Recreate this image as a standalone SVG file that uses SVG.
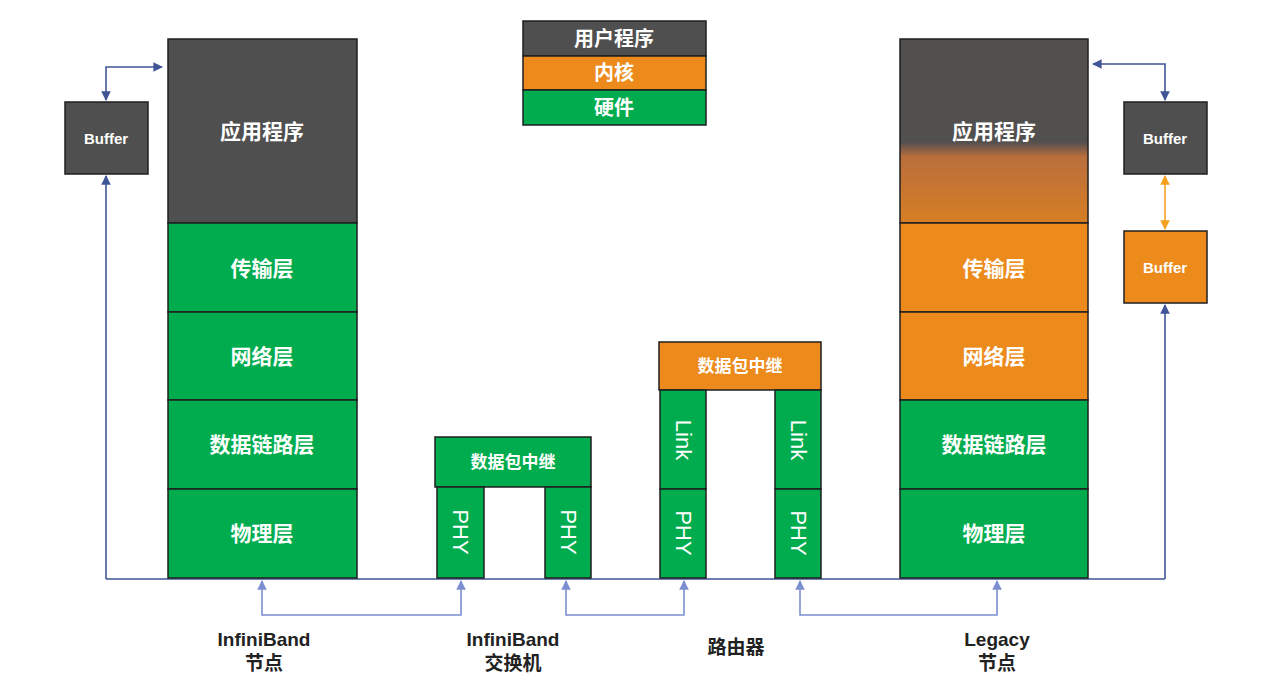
<svg xmlns="http://www.w3.org/2000/svg" width="1283" height="695" viewBox="0 0 1283 695">
<defs>
<style>
.d{fill:#4f4f4f;stroke:#1f1f1f;stroke-width:1.5}
.g{fill:#00ac4e;stroke:#1f1f1f;stroke-width:1.5}
.o{fill:#ec8a1c;stroke:#1f1f1f;stroke-width:1.5}
.t{font-family:"Liberation Sans","Noto Sans CJK SC",sans-serif;font-weight:bold;fill:#fff;text-anchor:middle;dominant-baseline:central}
.v{font-family:"Liberation Sans",sans-serif;fill:#fff;font-size:22px;text-anchor:middle;dominant-baseline:central}
.l{font-family:"Liberation Sans","Noto Sans CJK SC",sans-serif;font-weight:bold;fill:#222;font-size:19px;text-anchor:middle}
.c{fill:none;stroke:#3f5596;stroke-width:1.6}
.c2{fill:none;stroke:#7b8fd0;stroke-width:1.6}
.c3{fill:none;stroke:#f5a020;stroke-width:1.6}
</style>
<marker id="a" viewBox="0 0 10 10" refX="9" refY="5" markerWidth="6" markerHeight="6" orient="auto-start-reverse"><path d="M0,0L10,5L0,10z" fill="#3f5596"/></marker>
<marker id="b" viewBox="0 0 10 10" refX="9" refY="5" markerWidth="6" markerHeight="6" orient="auto-start-reverse"><path d="M0,0L10,5L0,10z" fill="#7b8fd0"/></marker>
<marker id="c" viewBox="0 0 10 10" refX="9" refY="5" markerWidth="6" markerHeight="6" orient="auto-start-reverse"><path d="M0,0L10,5L0,10z" fill="#f5a020"/></marker>
<linearGradient id="gr" x1="0" y1="0" x2="0" y2="1">
<stop offset="0" stop-color="#524f4f"/>
<stop offset="0.56" stop-color="#524f4f"/>
<stop offset="0.64" stop-color="#b96e3c"/>
<stop offset="1" stop-color="#d77f24"/>
</linearGradient>
</defs>
<rect width="1283" height="695" fill="#fff"/>

<g id="connectors">
<path class="c" d="M106,579H1165"/>
<path class="c" d="M106,579V176" marker-end="url(#a)"/>
<path class="c" d="M106,100V67H162" marker-start="url(#a)" marker-end="url(#a)"/>
<path class="c" d="M1165,100V64H1093" marker-start="url(#a)" marker-end="url(#a)"/>
<path class="c" d="M1165,579V305" marker-end="url(#a)"/>
<path class="c3" d="M1165,176V229" marker-start="url(#c)" marker-end="url(#c)"/>
<path class="c2" d="M262,581V615H461V581" marker-start="url(#b)" marker-end="url(#b)"/>
<path class="c2" d="M566,581V615H684V581" marker-start="url(#b)" marker-end="url(#b)"/>
<path class="c2" d="M800,581V615H997V581" marker-start="url(#b)" marker-end="url(#b)"/>
</g>

<g id="legend">
<rect class="d" x="523" y="21" width="183" height="35"/>
<rect class="o" x="523" y="56" width="183" height="34"/>
<rect class="g" x="523" y="90" width="183" height="35"/>
<text class="t" x="614" y="39" font-size="20">用户程序</text>
<text class="t" x="614" y="73" font-size="20">内核</text>
<text class="t" x="614" y="108" font-size="20">硬件</text>
</g>

<g id="ib-node">
<rect class="d" x="168" y="39" width="189" height="184"/>
<rect class="g" x="168" y="223" width="189" height="89"/>
<rect class="g" x="168" y="312" width="189" height="88"/>
<rect class="g" x="168" y="400" width="189" height="89"/>
<rect class="g" x="168" y="489" width="189" height="89"/>
<text class="t" x="262" y="131" font-size="21">应用程序</text>
<text class="t" x="262" y="268" font-size="21">传输层</text>
<text class="t" x="262" y="356" font-size="21">网络层</text>
<text class="t" x="262" y="444" font-size="21">数据链路层</text>
<text class="t" x="262" y="533" font-size="21">物理层</text>
</g>

<g id="buffer-left">
<rect class="d" x="65" y="102" width="83" height="72"/>
<text class="t" x="106" y="138" font-size="15">Buffer</text>
</g>

<g id="ib-switch">
<rect class="g" x="435" y="437" width="156" height="50"/>
<text class="t" x="513" y="462" font-size="17">数据包中继</text>
<rect class="g" x="437" y="487" width="47" height="91"/>
<rect class="g" x="545" y="487" width="46" height="91"/>
<text class="v" transform="translate(460,532) rotate(90)">PHY</text>
<text class="v" transform="translate(568,532) rotate(90)">PHY</text>
</g>

<g id="router">
<rect class="o" x="659" y="342" width="162" height="48"/>
<text class="t" x="740" y="366" font-size="17">数据包中继</text>
<rect class="g" x="660" y="390" width="46" height="99"/>
<rect class="g" x="660" y="489" width="46" height="89"/>
<rect class="g" x="775" y="390" width="46" height="99"/>
<rect class="g" x="775" y="489" width="46" height="89"/>
<text class="v" transform="translate(683,440) rotate(90)">Link</text>
<text class="v" transform="translate(683,533) rotate(90)">PHY</text>
<text class="v" transform="translate(798,440) rotate(90)">Link</text>
<text class="v" transform="translate(798,533) rotate(90)">PHY</text>
</g>

<g id="legacy-node">
<rect x="900" y="39" width="188" height="184" fill="url(#gr)" stroke="#1f1f1f" stroke-width="1.5"/>
<rect class="o" x="900" y="223" width="188" height="89"/>
<rect class="o" x="900" y="312" width="188" height="88"/>
<rect class="g" x="900" y="400" width="188" height="89"/>
<rect class="g" x="900" y="489" width="188" height="89"/>
<text class="t" x="994" y="131" font-size="21">应用程序</text>
<text class="t" x="994" y="268" font-size="21">传输层</text>
<text class="t" x="994" y="356" font-size="21">网络层</text>
<text class="t" x="994" y="444" font-size="21">数据链路层</text>
<text class="t" x="994" y="533" font-size="21">物理层</text>
</g>

<g id="buffer-right-user">
<rect class="d" x="1124" y="102" width="83" height="72"/>
<text class="t" x="1165" y="138" font-size="15">Buffer</text>
</g>
<g id="buffer-right-kernel">
<rect class="o" x="1124" y="231" width="83" height="72"/>
<text class="t" x="1165" y="267" font-size="15">Buffer</text>
</g>

<g id="labels">
<text class="l" x="264" y="646">InfiniBand</text>
<text class="l" x="264" y="670">节点</text>
<text class="l" x="513" y="646">InfiniBand</text>
<text class="l" x="513" y="670">交换机</text>
<text class="l" x="736" y="654">路由器</text>
<text class="l" x="997" y="646">Legacy</text>
<text class="l" x="997" y="670">节点</text>
</g>
</svg>
